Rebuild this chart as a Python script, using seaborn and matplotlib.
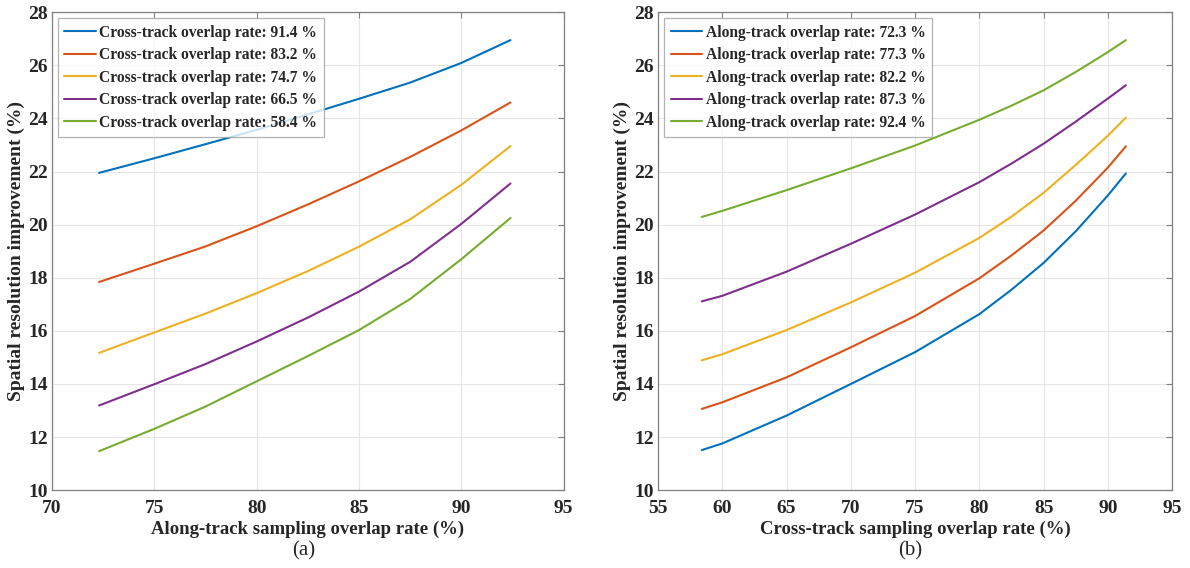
import matplotlib
matplotlib.use("Agg")
import matplotlib.pyplot as plt
import pandas as pd
import seaborn as sns

# MATLAB default line colours
colors = ["#0072BD", "#D95319", "#EDB120", "#7E2F8E", "#77AC30"]

# (a) x = along-track overlap rate, one curve per cross-track rate
along_x = [72.3, 75, 77.5, 80, 82.5, 85, 87.5, 90, 92.4]
cross_rates = ["91.4", "83.2", "74.7", "66.5", "58.4"]
a_914 = [21.95, 22.50, 23.03, 23.57, 24.15, 24.74, 25.35, 26.09, 26.95]
a_832 = [17.84, 18.53, 19.18, 19.94, 20.76, 21.63, 22.55, 23.55, 24.60]
a_747 = [15.17, 15.94, 16.65, 17.42, 18.25, 19.17, 20.20, 21.50, 22.96]
a_665 = [13.19, 13.99, 14.75, 15.60, 16.50, 17.48, 18.60, 20.03, 21.55]
a_584 = [11.47, 12.31, 13.15, 14.10, 15.05, 16.03, 17.20, 18.70, 20.25]

# (b) x = cross-track overlap rate, one curve per along-track rate
cross_x = [58.4, 60, 65, 70, 75, 80, 82.5, 85, 87.5, 90, 91.4]
along_rates = ["72.3", "77.3", "82.2", "87.3", "92.4"]
b_723 = [11.51, 11.76, 12.81, 14.00, 15.20, 16.63, 17.55, 18.56, 19.75, 21.10, 21.93]
b_773 = [13.06, 13.31, 14.25, 15.38, 16.56, 17.98, 18.84, 19.78, 20.90, 22.15, 22.95]
b_822 = [14.89, 15.12, 16.03, 17.07, 18.19, 19.50, 20.30, 21.20, 22.25, 23.35, 24.03]
b_873 = [17.11, 17.32, 18.23, 19.28, 20.38, 21.60, 22.30, 23.05, 23.88, 24.75, 25.25]
b_924 = [20.29, 20.52, 21.30, 22.12, 22.98, 23.95, 24.48, 25.06, 25.75, 26.50, 26.95]


def long_df(xs, rates, series, prefix):
    rows = []
    for rate, ys in zip(rates, series):
        for x, y in zip(xs, ys):
            rows.append({"x": x, "y": y, "label": f"{prefix}: {rate} %"})
    return pd.DataFrame(rows)


df_a = long_df(along_x, cross_rates, [a_914, a_832, a_747, a_665, a_584],
               "Cross-track overlap rate")
df_b = long_df(cross_x, along_rates, [b_723, b_773, b_822, b_873, b_924],
               "Along-track overlap rate")

sns.set_style("white")
plt.rcParams["font.family"] = ["Liberation Serif", "DejaVu Serif"]
plt.rcParams["font.weight"] = "bold"

fig = plt.figure(figsize=(11.9, 5.68), dpi=100)
ax1 = fig.add_axes([0.0437, 0.137, 0.430, 0.8415])
ax2 = fig.add_axes([0.553, 0.137, 0.432, 0.8415])


def style_axes(ax, df, xlim, xlabel):
    labels = list(dict.fromkeys(df["label"]))
    sns.lineplot(data=df, x="x", y="y", hue="label", hue_order=labels,
                 palette=colors, linewidth=1.5, ax=ax, sort=False)
    ax.set_xlim(*xlim)
    ax.set_ylim(10, 28)
    ax.set_xticks(range(xlim[0], xlim[1] + 1, 5))
    ax.set_yticks(range(10, 29, 2))
    ax.grid(True, color="#e6e6e6", linewidth=0.8)
    ax.tick_params(direction="in", top=True, right=True, length=4,
                   color="#808080", labelsize=14)
    ax.tick_params(axis="x", pad=7)
    ax.tick_params(axis="y", pad=3)
    for lab in ax.get_xticklabels() + ax.get_yticklabels():
        lab.set_fontweight("bold")
    for sp in ax.spines.values():
        sp.set_color("#808080")
        sp.set_linewidth(0.9)
    ax.set_xlabel(xlabel, fontsize=13.5, fontweight="bold", labelpad=3)
    ax.set_ylabel("Spatial resolution improvement (%)", fontsize=14,
                  fontweight="bold", labelpad=2)
    leg = ax.legend(loc="upper left", fontsize=11.2, frameon=True,
                    fancybox=False, handlelength=2.0, handletextpad=0.25,
                    borderpad=0.4, labelspacing=0.42,
                    borderaxespad=0.4)
    leg.get_frame().set_edgecolor("#a0a0a0")
    leg.get_frame().set_linewidth(0.9)
    for t in leg.get_texts():
        t.set_fontweight("bold")


style_axes(ax1, df_a, (70, 95), "Along-track sampling overlap rate (%)")
style_axes(ax2, df_b, (55, 95), "Cross-track sampling overlap rate (%)")

fig.text(0.255, 0.03, "(a)", ha="center", va="center", fontsize=15,
         fontweight="normal")
fig.text(0.765, 0.03, "(b)", ha="center", va="center", fontsize=15,
         fontweight="normal")

fig.savefig("out.png", dpi=100)
